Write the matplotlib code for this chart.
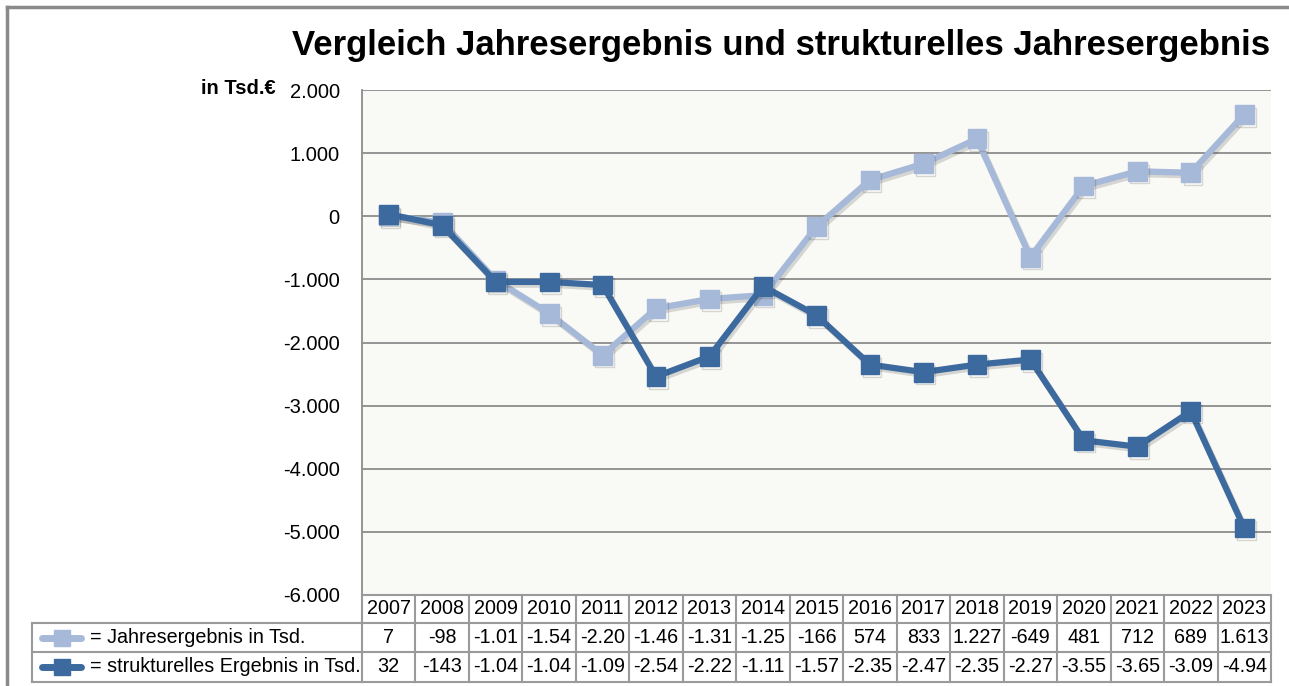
import matplotlib
matplotlib.use("Agg")
import matplotlib.pyplot as plt
import matplotlib.patheffects as pe
from matplotlib.transforms import blended_transform_factory
from matplotlib.lines import Line2D

plt.rcParams["font.family"] = ["Liberation Sans", "DejaVu Sans"]

# Data
years = ["2007", "2008", "2009", "2010", "2011", "2012", "2013", "2014", "2015",
         "2016", "2017", "2018", "2019", "2020", "2021", "2022", "2023"]
jahres = [7, -98, -1010, -1540, -2200, -1460, -1310, -1250, -166,
          574, 833, 1227, -649, 481, 712, 689, 1613]
struktur = [32, -143, -1040, -1040, -1090, -2540, -2220, -1110, -1570,
            -2350, -2470, -2350, -2270, -3550, -3650, -3090, -4940]
# values as printed in the data table
jahres_labels = ["7", "-98", "-1.01", "-1.54", "-2.20", "-1.46", "-1.31", "-1.25", "-166",
                 "574", "833", "1.227", "-649", "481", "712", "689", "1.613"]
struktur_labels = ["32", "-143", "-1.04", "-1.04", "-1.09", "-2.54", "-2.22", "-1.11", "-1.57",
                   "-2.35", "-2.47", "-2.35", "-2.27", "-3.55", "-3.65", "-3.09", "-4.94"]
series_names = ["= Jahresergebnis in Tsd.", "= strukturelles Ergebnis in Tsd."]
yticks = [2000, 1000, 0, -1000, -2000, -3000, -4000, -5000, -6000]
ytick_labels = ["2.000", "1.000", "0", "-1.000", "-2.000", "-3.000", "-4.000", "-5.000", "-6.000"]

LIGHT = "#A7B9D8"
DARK = "#3C6A9E"
GRID = "#8C8C8C"
BORDER = "#9A9A9A"
FS = 14.2

W, H = 1289, 686
fig = plt.figure(figsize=(W / 100, H / 100), dpi=100)

# outer frame (top and left)
fig.add_artist(Line2D([7 / W, 7 / W], [0, 1 - 7 / H], transform=fig.transFigure, color="#8A8A8A", lw=2.5))
fig.add_artist(Line2D([7 / W, 1], [1 - 7 / H, 1 - 7 / H], transform=fig.transFigure, color="#8A8A8A", lw=2.5))

left, right, top, bottom = 362, 1271, 90, 595
ax = fig.add_axes([left / W, 1 - bottom / H, (right - left) / W, (bottom - top) / H])
ax.set_facecolor("#F9F9F6")

x = list(range(len(years)))
shadow = [pe.SimpleLineShadow(offset=(1.5, -2), alpha=0.18, shadow_color="#333333"), pe.Normal()]
ax.plot(x, jahres, color=LIGHT, lw=4.5, marker="s", ms=13.5, zorder=3, path_effects=shadow)
ax.plot(x, struktur, color=DARK, lw=4.5, marker="s", ms=13.5, zorder=4, path_effects=shadow)

ax.set_xlim(-0.5, len(years) - 0.5)
ax.set_ylim(-6000, 2000)
ax.set_yticks(yticks)
ax.set_yticklabels(ytick_labels, fontsize=14.5)
ax.set_xticks([])
ax.tick_params(axis="y", length=0, pad=16)
ax.grid(axis="y", color=GRID, lw=1.3)
ax.set_axisbelow(True)
for s in ["right", "bottom", "top"]:
    ax.spines[s].set_visible(False)
ax.spines["left"].set_color(GRID)
ax.spines["left"].set_linewidth(1.3)

fig.text(276 / W, 1 - 89 / H, "in Tsd.€", ha="right", va="center", fontsize=14.5, fontweight="bold")
fig.text(1270 / W, 1 - 46 / H, "Vergleich Jahresergebnis und strukturelles Jahresergebnis",
         ha="right", va="center", fontsize=25, fontweight="bold")

# data table below the plot
tr = blended_transform_factory(ax.transData, fig.transFigure)
tra = blended_transform_factory(fig.transFigure, fig.transFigure)
rows_px = [595, 623, 652, 682]
ry = [1 - r / H for r in rows_px]
lab_left = 32 / W
ax_left = left / W
kw = dict(color=BORDER, lw=1.5, clip_on=False)

# horizontal lines
fig.add_artist(Line2D([-0.5, len(years) - 0.5], [ry[0], ry[0]], transform=tr, **kw))
for yy in ry[1:]:
    fig.add_artist(Line2D([lab_left, ax_left], [yy, yy], transform=tra, **kw))
    fig.add_artist(Line2D([-0.5, len(years) - 0.5], [yy, yy], transform=tr, **kw))
# vertical lines
fig.add_artist(Line2D([lab_left, lab_left], [ry[1], ry[3]], transform=tra, **kw))
for i in range(len(years) + 1):
    fig.add_artist(Line2D([i - 0.5, i - 0.5], [ry[0], ry[3]], transform=tr, **kw))

for i, yr in enumerate(years):
    fig.text(i, (ry[0] + ry[1]) / 2, yr, transform=tr, ha="center", va="center", fontsize=FS)
    fig.text(i, (ry[1] + ry[2]) / 2, jahres_labels[i], transform=tr, ha="center", va="center", fontsize=FS)
    fig.text(i, (ry[2] + ry[3]) / 2, struktur_labels[i], transform=tr, ha="center", va="center", fontsize=FS)

for k, (name, col) in enumerate(zip(series_names, [LIGHT, DARK])):
    yc = (ry[k + 1] + ry[k + 2]) / 2
    fig.add_artist(Line2D([42 / W, 81 / W], [yc, yc], transform=tra, color=col, lw=5,
                          solid_capstyle="round"))
    fig.add_artist(Line2D([61.5 / W], [yc], transform=tra, color=col, marker="s", ms=12, lw=0))
    fig.text(90 / W, yc, name, transform=tra, ha="left", va="center", fontsize=FS)

fig.savefig("out.png", dpi=100, facecolor="white")
